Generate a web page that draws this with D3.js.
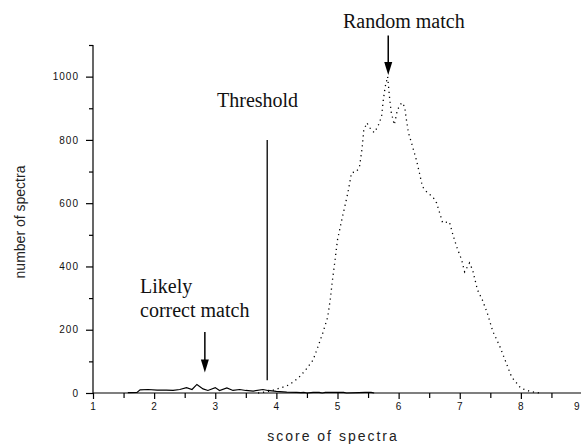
<!DOCTYPE html>
<html>
<head>
<meta charset="utf-8">
<script src="https://cdn.jsdelivr.net/npm/d3@7"></script>
<style>
  html, body { margin: 0; padding: 0; background: #fff; }
  svg { display: block; }
</style>
</head>
<body>
<div id="chart"></div>
<script>
// 得分分布 (score of spectra) - 两条曲线
const correctScores = [1.57, 1.72, 1.77, 1.9, 2.05, 2.2, 2.31, 2.42, 2.53, 2.62, 2.70, 2.80, 2.88, 3.0, 3.07, 3.19, 3.29, 3.4, 3.5, 3.62, 3.78, 3.86, 4.0, 4.17, 4.33, 4.4, 4.45, 4.5, 4.6, 4.7, 4.75, 4.8, 5.1, 5.15, 5.45, 5.55, 5.6];
const correctCounts = [1, 2, 10, 11, 9, 9, 8, 11, 17, 11, 27, 13, 8, 17, 8, 16, 8, 11, 8, 6, 11, 8, 5, 3, 2, 1, 2, 0, 2, 2, 0, 2, 2, 0, 2, 2, 0];

const randomScores = [3.7, 3.8, 3.9, 4.0, 4.1, 4.2, 4.3, 4.4, 4.5, 4.6, 4.68, 4.76, 4.84, 4.88, 4.92, 4.96, 5.0, 5.07, 5.12, 5.17, 5.23, 5.31, 5.36, 5.40, 5.43, 5.48, 5.53, 5.6, 5.66, 5.72, 5.75, 5.78, 5.82, 5.85, 5.88, 5.93, 5.98, 6.05, 6.1, 6.12, 6.16, 6.21, 6.29, 6.34, 6.39, 6.47, 6.56, 6.62, 6.67, 6.72, 6.83, 6.88, 6.95, 7.03, 7.08, 7.16, 7.21, 7.29, 7.37, 7.45, 7.54, 7.65, 7.75, 7.85, 8.0, 8.15, 8.3];
const randomCounts = [0, 3, 6, 12, 18, 25, 38, 55, 78, 104, 146, 190, 240, 294, 360, 421, 484, 547, 590, 633, 696, 700, 715, 770, 830, 854, 838, 823, 842, 873, 927, 968, 1000, 937, 886, 848, 895, 918, 905, 873, 823, 791, 737, 696, 652, 633, 620, 601, 570, 538, 541, 506, 462, 421, 383, 411, 389, 326, 294, 253, 195, 150, 100, 50, 15, 5, 0];

const xTicks = [1, 2, 3, 4, 5, 6, 7, 8, 9];
const yTicks = [0, 200, 400, 600, 800, 1000];

const threshold = 3.85;

const width = 581;
const height = 444;

const svg = d3.select('#chart').append('svg')
  .attr('width', width)
  .attr('height', height);

const x = d3.scaleLinear().domain([1, 9]).range([93, 582]);
const y = d3.scaleLinear().domain([0, 1100]).range([393, 45]);

// 坐标轴
const xAxis = svg.append('g')
  .attr('transform', `translate(0,${y(0)})`)
  .call(d3.axisBottom(x).tickValues(d3.range(1, 9.01, 0.5)).tickSize(5)
    .tickFormat(d => xTicks.includes(d) ? d : ''));
xAxis.select('.domain').attr('d', `M${x(1)},0H${width}`);

const yAxis = svg.append('g')
  .attr('transform', `translate(${x(1)},0)`)
  .call(d3.axisLeft(y).tickValues(d3.range(0, 1101, 100)).tickSize(4)
    .tickFormat(d => yTicks.includes(d) ? d : ''));
yAxis.select('.domain').attr('d', `M0,${y(1100)}V${y(0)}`);
yAxis.selectAll('.tick').filter(d => yTicks.includes(d)).select('line').attr('x2', -7);
xAxis.selectAll('.tick').filter(d => xTicks.includes(d)).select('line').attr('y2', 6);

svg.selectAll('.tick text')
  .attr('font-family', 'Arial, "Liberation Sans", sans-serif')
  .attr('font-size', 10)
  .attr('letter-spacing', '1px')
  .attr('fill', '#111');
yAxis.selectAll('.tick text').attr('x', -14);
xAxis.selectAll('.tick text').attr('y', 10);
// 最后一个刻度标签贴着右边缘
xAxis.selectAll('.tick').filter(d => d === 9).select('text')
  .attr('text-anchor', 'end').attr('x', width - x(9) - 1);
svg.selectAll('.domain, .tick line').attr('stroke', '#000').attr('stroke-width', 1.2);

// 轴标题
svg.append('text')
  .attr('x', 333).attr('y', 441)
  .attr('text-anchor', 'middle')
  .attr('font-family', 'Arial, "Liberation Sans", sans-serif')
  .attr('font-size', 14)
  .attr('letter-spacing', '2px')
  .attr('fill', '#222')
  .text('score of spectra');

svg.append('text')
  .attr('transform', 'translate(25,222) rotate(-90)')
  .attr('text-anchor', 'middle')
  .attr('font-family', 'Arial, "Liberation Sans", sans-serif')
  .attr('font-size', 14)
  .attr('fill', '#222')
  .text('number of spectra');

// 曲线
const line = d3.line().x(d => x(d[0])).y(d => y(d[1]));

svg.append('path')
  .datum(d3.zip(randomScores, randomCounts))
  .attr('d', line)
  .attr('fill', 'none')
  .attr('stroke', '#000')
  .attr('stroke-width', 1.3)
  .attr('stroke-dasharray', '1.2,3.8');

svg.append('path')
  .datum(d3.zip(correctScores, correctCounts))
  .attr('d', line)
  .attr('fill', 'none')
  .attr('stroke', '#000')
  .attr('stroke-width', 1.2);

// 阈值线
svg.append('line')
  .attr('x1', x(threshold)).attr('x2', x(threshold))
  .attr('y1', y(800)).attr('y2', y(40))
  .attr('stroke', '#000').attr('stroke-width', 1.3);

// 注释
const serif = '"Times New Roman", "Liberation Serif", serif';
const label = (tx, ty, t) => svg.append('text')
  .attr('x', tx).attr('y', ty)
  .attr('font-family', serif)
  .attr('font-size', 20)
  .attr('fill', '#111')
  .text(t);

label(343, 28, 'Random match');
label(217, 107, 'Threshold');
label(140, 293, 'Likely');
label(140, 317, 'correct match');

function arrow(xv, yTop, yTip) {
  const px = x(xv);
  const tip = y(yTip);
  svg.append('line')
    .attr('x1', px).attr('x2', px)
    .attr('y1', y(yTop)).attr('y2', tip - 8)
    .attr('stroke', '#000').attr('stroke-width', 1.5);
  svg.append('path')
    .attr('d', `M${px - 4},${tip - 13}L${px + 4},${tip - 13}L${px},${tip}Z`)
    .attr('fill', '#000');
}
arrow(5.83, 1130, 1005);
arrow(2.83, 193, 65);
</script>
</body>
</html>
